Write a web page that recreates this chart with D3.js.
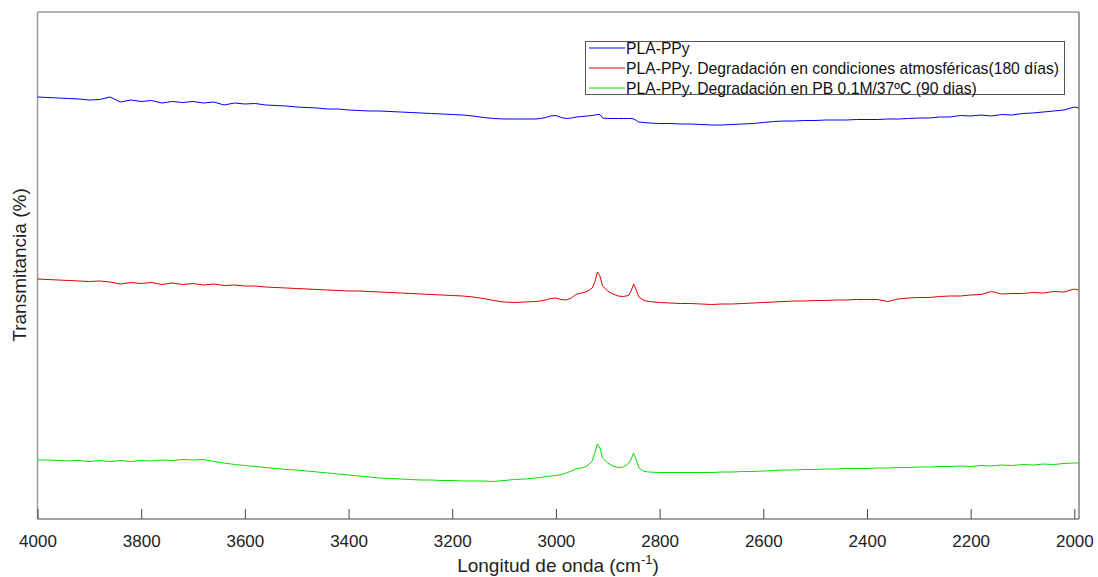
<!DOCTYPE html>
<html>
<head>
<meta charset="utf-8">
<script src="https://cdn.jsdelivr.net/npm/d3@7"></script>
<style>
  html, body { margin: 0; padding: 0; background: #fff; }
  svg { display: block; font-family: "Liberation Sans", Arial, sans-serif; }
</style>
</head>
<body>
<svg id="chart" width="1098" height="577"></svg>
<script>
// FTIR spectra of PLA-PPy films, offset vertically for comparison.
const wavenumber = [
  4000, 3980, 3960, 3940, 3920, 3900, 3880, 3860, 3840, 3820,
  3800, 3780, 3760, 3740, 3720, 3700, 3680, 3660, 3640, 3620,
  3600, 3580, 3560, 3540, 3520, 3500, 3480, 3460, 3440, 3420,
  3400, 3380, 3360, 3340, 3320, 3300, 3280, 3260, 3240, 3220,
  3200, 3180, 3160, 3140, 3120, 3100, 3080, 3060, 3040, 3030,
  3020, 3010, 3000, 2990, 2980, 2970, 2960, 2950, 2940, 2930,
  2925, 2920, 2915, 2910, 2900, 2890, 2880, 2870, 2860, 2855,
  2850, 2845, 2840, 2830, 2820, 2800, 2780, 2760, 2740, 2720,
  2700, 2680, 2660, 2640, 2620, 2600, 2580, 2560, 2540, 2520,
  2500, 2480, 2460, 2440, 2420, 2400, 2380, 2360, 2340, 2320,
  2300, 2280, 2260, 2240, 2220, 2200, 2180, 2160, 2140, 2120,
  2100, 2080, 2060, 2040, 2020, 2000, 1992
];

// PLA-PPy
const plaPpy = [
  84.4, 84.3, 84.2, 84.1, 84.0, 83.8, 83.9, 84.4, 83.4, 83.8,
  83.5, 83.7, 83.2, 83.5, 83.3, 83.5, 83.2, 83.4, 82.8, 83.2,
  83.0, 83.1, 82.8, 82.7, 82.6, 82.4, 82.3, 82.2, 82.0, 82.0,
  81.8, 81.7, 81.6, 81.6, 81.5, 81.4, 81.3, 81.2, 81.1, 81.0,
  80.9, 80.8, 80.6, 80.3, 80.1, 80.0, 80.0, 80.0, 80.0, 80.1,
  80.3, 80.6, 80.7, 80.3, 80.1, 80.2, 80.4, 80.5, 80.6, 80.7,
  80.8, 80.9, 80.9, 80.2, 80.1, 80.1, 80.1, 80.1, 80.1, 80.1,
  80.0, 79.7, 79.4, 79.3, 79.2, 79.1, 79.1, 79.0, 79.0, 78.9,
  78.8, 78.8, 78.9, 79.0, 79.1, 79.3, 79.5, 79.6, 79.6, 79.7,
  79.7, 79.8, 79.8, 79.8, 79.9, 79.9, 79.9, 80.0, 80.0, 80.1,
  80.2, 80.2, 80.4, 80.4, 80.7, 80.6, 80.8, 80.6, 80.9, 80.8,
  81.1, 81.2, 81.4, 81.6, 81.8, 82.4, 82.2
];

// PLA-PPy after 180 days of atmospheric exposure
const plaPpyAtmos = [
  48.0, 47.9, 47.8, 47.7, 47.6, 47.5, 47.6, 47.4, 47.0, 47.3,
  47.1, 47.3, 46.9, 47.2, 46.9, 47.1, 46.8, 47.0, 46.7, 46.8,
  46.6, 46.6, 46.4, 46.3, 46.2, 46.1, 46.0, 45.9, 45.8, 45.7,
  45.6, 45.6, 45.5, 45.4, 45.3, 45.2, 45.1, 45.0, 44.9, 44.8,
  44.7, 44.6, 44.4, 44.1, 43.7, 43.4, 43.3, 43.4, 43.5, 43.6,
  43.8, 44.1, 44.2, 43.9, 43.8, 44.2, 45.0, 45.2, 45.5, 46.2,
  47.4, 49.4, 48.6, 46.6, 45.6, 45.0, 44.6, 44.5, 44.7, 45.6,
  47.0, 45.8, 44.4, 43.7, 43.5, 43.3, 43.2, 43.1, 43.1, 43.0,
  42.9, 43.0, 43.0, 43.1, 43.2, 43.3, 43.4, 43.5, 43.6, 43.6,
  43.7, 43.7, 43.8, 43.8, 43.9, 43.9, 43.9, 43.5, 44.0, 44.2,
  44.3, 44.3, 44.5, 44.6, 44.6, 44.8, 44.9, 45.5, 45.0, 45.1,
  45.1, 45.3, 45.2, 45.5, 45.4, 46.0, 45.8
];

// PLA-PPy after 90 days in phosphate buffer 0.1 M at 37 °C
const plaPpyPB = [
  11.8, 11.8, 11.7, 11.6, 11.7, 11.5, 11.7, 11.5, 11.7, 11.5,
  11.7, 11.6, 11.8, 11.7, 11.9, 11.8, 11.9, 11.5, 11.2, 10.9,
  10.7, 10.5, 10.3, 10.1, 9.9, 9.8, 9.6, 9.4, 9.2, 9.0,
  8.8, 8.6, 8.4, 8.2, 8.1, 8.0, 7.9, 7.8, 7.8, 7.7,
  7.7, 7.6, 7.6, 7.6, 7.5, 7.7, 7.9, 8.0, 8.2, 8.3,
  8.5, 8.6, 8.7, 8.9, 9.2, 9.6, 10.1, 10.2, 10.6, 11.6,
  13.2, 15.0, 14.2, 12.2, 11.2, 10.6, 10.3, 10.4, 11.1, 12.0,
  13.2, 11.8, 10.2, 9.5, 9.4, 9.3, 9.3, 9.3, 9.3, 9.3,
  9.3, 9.4, 9.4, 9.5, 9.5, 9.6, 9.7, 9.8, 9.8, 9.9,
  9.9, 10.0, 10.0, 10.1, 10.1, 10.1, 10.2, 10.2, 10.3, 10.3,
  10.4, 10.4, 10.5, 10.5, 10.6, 10.5, 10.7, 10.6, 10.8, 10.7,
  10.9, 10.8, 11.0, 10.9, 11.1, 11.2, 11.2
];

const seriesNames = [
  "PLA-PPy",
  "PLA-PPy. Degradación en condiciones atmosféricas(180 días)",
  "PLA-PPy. Degradación en PB 0.1M/37ºC (90 dias)"
];
const seriesColors = ["#0000ff", "#dd0000", "#00e000"];
const seriesValues = [plaPpy, plaPpyAtmos, plaPpyPB];

const xTicks = [4000, 3800, 3600, 3400, 3200, 3000, 2800, 2600, 2400, 2200, 2000];
const xDomain = [4000, 1991];
const yDomain = [0, 101.4];

const svg = d3.select("#chart");
const plot = { left: 37.5, right: 1079, top: 12, bottom: 519 };

const x = d3.scaleLinear().domain(xDomain).range([plot.left, plot.right]);
const y = d3.scaleLinear().domain(yDomain).range([plot.bottom, plot.top]);

// plot frame
svg.append("line").attr("x1", plot.left).attr("x2", plot.right)
  .attr("y1", plot.top).attr("y2", plot.top)
  .attr("stroke", "#9a9a9a").attr("stroke-width", 1.5);
svg.append("line").attr("x1", plot.left).attr("x2", plot.left)
  .attr("y1", plot.top).attr("y2", plot.bottom)
  .attr("stroke", "#9a9a9a").attr("stroke-width", 1.5);
svg.append("line").attr("x1", plot.right).attr("x2", plot.right)
  .attr("y1", plot.top).attr("y2", plot.bottom)
  .attr("stroke", "#444").attr("stroke-width", 1);

// bottom axis with inward ticks
const xAxis = d3.axisBottom(x).tickValues(xTicks).tickSize(-10).tickPadding(16)
  .tickFormat(d3.format("d"));
const gx = svg.append("g").attr("transform", `translate(0,${plot.bottom})`).call(xAxis);
gx.select(".domain").attr("stroke", "#444").attr("d", `M${plot.left},0H${plot.right}`);
gx.selectAll(".tick line").attr("stroke", "#444");
gx.selectAll(".tick text").attr("font-size", 17).attr("fill", "#222")
  .attr("font-family", "Liberation Sans, Arial, sans-serif");

// spectra
const line = d3.line()
  .x((d, i) => x(wavenumber[i]))
  .y(d => y(d));

seriesValues.forEach((vals, k) => {
  svg.append("path")
    .datum(vals)
    .attr("fill", "none")
    .attr("stroke", seriesColors[k])
    .attr("stroke-width", 1)
    .attr("stroke-linejoin", "round")
    .attr("d", line);
});

// axis titles
const xt = svg.append("text")
  .attr("x", 558).attr("y", 572)
  .attr("text-anchor", "middle")
  .attr("font-size", 19).attr("fill", "#222");
xt.append("tspan").text("Longitud de onda (cm");
xt.append("tspan").attr("dy", -8).attr("font-size", 13).text("-1");
xt.append("tspan").attr("dy", 8).text(")");

svg.append("text")
  .attr("transform", "translate(26,265) rotate(-90)")
  .attr("text-anchor", "middle")
  .attr("font-size", 19).attr("fill", "#222")
  .text("Transmitancia (%)");

// legend
const legend = svg.append("g");
legend.append("rect")
  .attr("x", 585.5).attr("y", 41.5).attr("width", 479).attr("height", 53)
  .attr("fill", "#fff").attr("stroke", "#555").attr("stroke-width", 1);
seriesNames.forEach((name, k) => {
  const cy = 48 + k * 20;
  legend.append("line")
    .attr("x1", 589).attr("x2", 625).attr("y1", cy).attr("y2", cy)
    .attr("stroke", seriesColors[k]).attr("stroke-width", 1);
  legend.append("text")
    .attr("x", 626).attr("y", cy + 5.5)
    .attr("font-size", 15.7).attr("fill", "#111")
    .text(name);
});
</script>
</body>
</html>
